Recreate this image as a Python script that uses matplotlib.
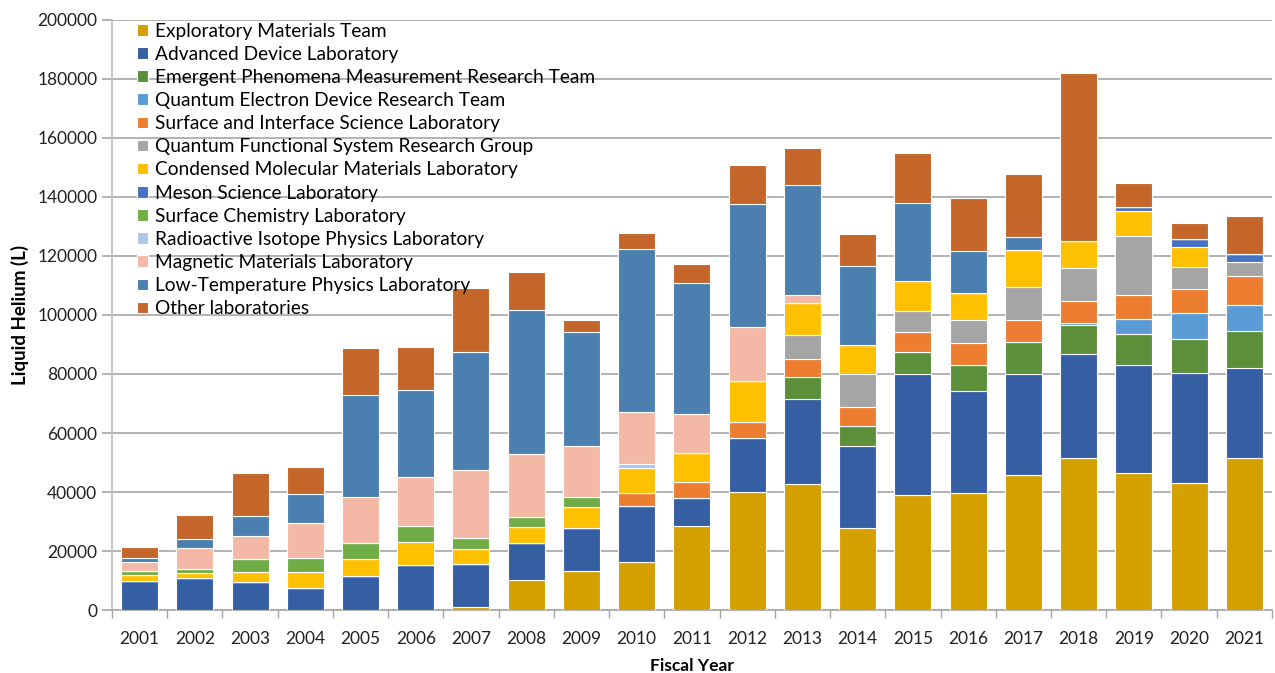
import numpy as np
import matplotlib
matplotlib.use("Agg")
import matplotlib.pyplot as plt

plt.rcParams['font.family'] = ['Lato', 'DejaVu Sans']

# Dados (litros por ano fiscal)
years = [str(y) for y in range(2001, 2022)]

exploratory = [0, 0, 0, 0, 0, 0, 1000, 10200, 13200, 16200, 28500, 40100, 42700,
               27700, 38900, 39800, 45800, 51400, 46600, 43000, 51400]
advanced = [9900, 10900, 9600, 7300, 11400, 15100, 14600, 12400, 14500, 19200, 9400,
            18200, 28800, 27900, 41000, 34300, 34100, 35500, 36300, 37400, 30700]
emergent = [0, 0, 0, 0, 0, 0, 0, 0, 0, 0, 0, 0, 7400, 6700, 7600, 8800, 10800,
            9800, 10600, 11600, 12600]
quantum_electron = [0, 0, 0, 0, 0, 0, 0, 0, 0, 0, 0, 0, 0, 0, 0, 0, 0,
                    500, 5300, 8700, 8700]
surface_interface = [0, 0, 0, 0, 0, 0, 0, 0, 0, 4400, 5400, 5500, 6100, 6600, 6600,
                     7500, 7600, 7400, 8100, 8200, 9900]
quantum_functional = [0, 0, 0, 0, 0, 0, 0, 0, 0, 0, 0, 0, 8200, 11000, 7100, 7900,
                      11300, 11500, 19900, 7500, 4500]
condensed = [2000, 1700, 3200, 5500, 5800, 7800, 5100, 5400, 7100, 8300, 9900, 13900,
             10900, 9800, 10300, 9300, 12400, 9100, 8500, 6600, 0]
meson = [0, 0, 0, 0, 0, 0, 0, 0, 0, 0, 0, 0, 0, 0, 0, 0, 0, 0, 1300, 2600, 2900]
surface_chem = [1300, 1400, 4600, 4900, 5400, 5500, 3700, 3600, 3600, 0, 0, 0, 0,
                0, 0, 0, 0, 0, 0, 0, 0]
radioactive = [0, 0, 0, 0, 0, 0, 0, 0, 0, 1300, 0, 0, 0, 0, 0, 0, 0, 0, 0, 0, 0]
magnetic = [3200, 7100, 7700, 11800, 15600, 16600, 23200, 21300, 17100, 17600, 13100,
            18100, 2600, 0, 0, 0, 0, 0, 0, 0, 0]
low_temp = [1200, 2900, 6900, 9700, 34600, 29500, 40000, 48700, 38700, 55300, 44500,
            41700, 37200, 26900, 26400, 14100, 4300, 0, 0, 0, 0]
other = [3600, 8100, 14400, 9200, 15900, 14700, 21600, 13000, 4100, 5400, 6400, 13300,
         12700, 10800, 17100, 18000, 21400, 56800, 8000, 5500, 13000]

series = [
    ("Exploratory Materials Team", exploratory, "#D4A000"),
    ("Advanced Device Laboratory", advanced, "#355EA3"),
    ("Emergent Phenomena Measurement Research Team", emergent, "#5B8F3A"),
    ("Quantum Electron Device Research Team", quantum_electron, "#5B9BD5"),
    ("Surface and Interface Science Laboratory", surface_interface, "#ED7D31"),
    ("Quantum Functional System Research Group", quantum_functional, "#A5A5A5"),
    ("Condensed Molecular Materials Laboratory", condensed, "#FFC000"),
    ("Meson Science Laboratory", meson, "#4472C4"),
    ("Surface Chemistry Laboratory", surface_chem, "#70AD47"),
    ("Radioactive Isotope Physics Laboratory", radioactive, "#A9C8EA"),
    ("Magnetic Materials Laboratory", magnetic, "#F4B9A6"),
    ("Low-Temperature Physics Laboratory", low_temp, "#4A7FB0"),
    ("Other laboratories", other, "#C4652A"),
]


def main():
    fig = plt.figure(figsize=(12.75, 6.73), dpi=100)
    ax = fig.add_axes([0.0878, 0.0936, 0.9098, 0.8767])

    x = np.arange(len(years))
    bottom = np.zeros(len(years))
    for label, vals, color in series:
        vals = np.array(vals, dtype=float)
        ax.bar(x, vals, width=0.67, bottom=bottom, color=color, label=label,
               edgecolor="white", linewidth=0.8, zorder=3)
        bottom += vals

    # Eixos
    ax.set_xlim(-0.5, len(years) - 0.5)
    ax.set_ylim(0, 200000)
    ax.set_yticks(np.arange(0, 200001, 20000))
    ax.set_yticklabels([str(v) for v in range(0, 200001, 20000)])
    ax.yaxis.grid(True, color="#A6A6A6", linewidth=1.2, zorder=0)
    ax.set_axisbelow(True)

    ax.set_xticks(x)
    ax.set_xticklabels(years)
    ax.set_xticks(np.arange(-0.5, len(years), 1.0), minor=True)
    ax.tick_params(axis="x", which="major", length=0, pad=15, labelsize=12.5,
                   colors="#222222")
    ax.tick_params(axis="x", which="minor", length=6, color="#A6A6A6", width=1)
    ax.tick_params(axis="y", length=7, width=1.2, labelsize=12.5,
                   colors="#A6A6A6", labelcolor="#222222")

    for side in ("top", "right"):
        ax.spines[side].set_visible(False)
    ax.spines["left"].set_color("#BFBFBF")
    ax.spines["left"].set_linewidth(1.2)
    ax.spines["bottom"].set_color("#A6A6A6")
    ax.spines["bottom"].set_linewidth(1.2)

    ax.set_xlabel("Fiscal Year", fontsize=12.5, fontweight="bold", labelpad=8)
    ax.set_ylabel("Liquid Helium (L)", fontsize=13.5, fontweight="bold", labelpad=6)

    # Legenda
    ax.legend(loc="upper left", bbox_to_anchor=(0.012, 1.015), frameon=False,
              fontsize=13.8, handlelength=0.55, handleheight=0.55,
              handletextpad=0.35, labelspacing=0.32, borderaxespad=0.2)

    fig.savefig("out.png", dpi=100)


if __name__ == "__main__":
    main()
